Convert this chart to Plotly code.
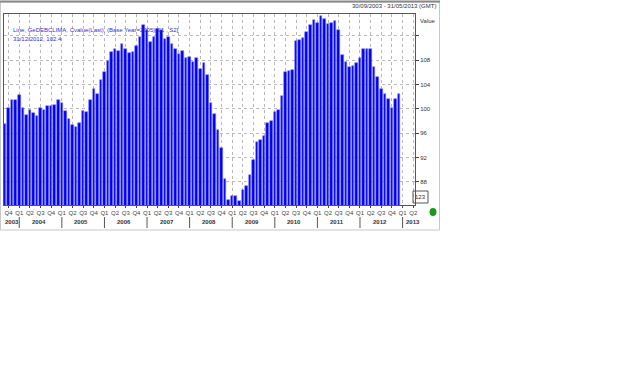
import plotly.graph_objects as go
import pandas as pd

# ---- data ----
start_month = "2003-09-01"
values = [
    97.5, 100.1, 101.5, 101.5, 102.3, 100.1, 99.0, 99.9, 99.3, 98.9,
    100.2, 99.9, 100.4, 100.4, 100.6, 101.5, 100.9, 99.7, 98.3, 97.4,
    97.0, 97.6, 99.7, 99.5, 101.5, 103.3, 102.4, 104.8, 106.1, 107.8,
    109.3, 109.9, 109.6, 110.7, 109.9, 109.2, 109.4, 110.4, 111.9, 113.8,
    112.9, 111.0, 111.9, 113.1, 113.0, 111.5, 111.9, 110.6, 109.9, 109.1,
    109.6, 108.3, 108.5, 107.7, 108.4, 106.6, 107.6, 105.5, 101.0, 99.2,
    96.5, 93.5, 88.5, 85.0, 85.6, 85.6, 84.8, 86.6, 87.3, 89.2,
    91.6, 94.6, 94.9, 95.6, 97.6, 98.0, 99.5, 99.8, 102.2, 106.0,
    106.2, 106.4, 111.1, 111.4, 111.7, 112.6, 113.8, 114.6, 114.1, 115.2,
    114.7, 113.9, 114.1, 114.4, 113.0, 108.9, 107.7, 106.9, 107.0, 107.5,
    108.4, 109.8, 109.9, 109.9, 106.9, 105.2, 103.3, 102.4, 101.6, 100.2,
    101.6, 102.4,
]
y_tick_vals = [88, 92, 96, 100, 104, 108, 112]
y_tick_text = ["88", "92", "96", "100", "104", "108", ""]
quarter_names = ["Q1", "Q2", "Q3", "Q4"]
years = ["2003", "2004", "2005", "2006", "2007", "2008", "2009", "2010", "2011", "2012", "2013"]
legend_line1 = "Line, GeDEBCLIMA, Cvalue(Last), (Base Year=2005)[S1 , S2]"
legend_line2 = "31/12/2012, 102.4"
date_range_text = "30/09/2003 - 31/05/2013 (GMT)"

# ---- derived ----
n_extra = 5  # axis extends to Q2 2013
months = pd.date_range(start_month, periods=len(values) + n_extra, freq="MS")
idx = list(range(len(values)))
q_vals, q_text = [], []
for i, m in enumerate(months):
    if m.month in (1, 4, 7, 10):
        q_vals.append(i)
        q_text.append(quarter_names[(m.month - 1) // 3])

W, H = 640, 387
L, R, T, B = 4, 415, 14, 205
def px(x):
    return (x - L) / (R - L)
def py(y):
    return (B - y) / (B - T)

fnt = "Liberation Sans Narrow, Liberation Sans, Arial"
fig = go.Figure()
fig.add_trace(go.Bar(
    x=idx, y=values, width=0.72,
    marker=dict(color="#0000f0", line=dict(color="#7b7bff", width=0.6)),
    hoverinfo="skip",
))
fig.add_trace(go.Scatter(
    x=[len(values) + 5], y=[values[-1]], mode="markers",
    marker=dict(symbol="diamond", size=6, color="#1515e0"),
    cliponaxis=False, hoverinfo="skip",
))

shapes = []
annotations = []

def ann(x, y, text, xref="paper", xanchor="center", color="#333", size=6):
    return dict(x=x, y=y, xref=xref, yref="paper", text=text, showarrow=False,
                xanchor=xanchor, yanchor="middle",
                font=dict(size=size, color=color, family=fnt))

# year labels and separators
for yr in years:
    jan = [i for i, m in enumerate(months) if m.year == int(yr) and m.month == 1]
    first = [i for i, m in enumerate(months) if m.year == int(yr)]
    if jan:
        shapes.append(dict(type="line", xref="x", yref="paper", x0=jan[0], x1=jan[0],
                           y0=py(217), y1=py(228), line=dict(color="#555", width=1)))
    if yr == years[-1]:
        annotations.append(ann(jan[0] + 0.4, py(222.5), "<b>%s</b>" % yr, xref="x",
                               xanchor="left", color="#333"))
    else:
        mid = (first[0] + first[-1]) / 2.0 + (0.5 if yr == years[0] else 0.0)
        annotations.append(ann(mid, py(222.5), "<b>%s</b>" % yr, xref="x", color="#333"))

annotations += [
    ann(px(11), py(30), legend_line1, xanchor="left", color="#3030d0"),
    ann(px(11), py(39), legend_line2, xanchor="left", color="#3030d0"),
    ann(px(438), py(6), date_range_text, xanchor="right"),
    ann(px(418), py(21), "Value", xanchor="left"),
    ann(px(420.5), py(197), "123"),
]
shapes += [
    # outer frame
    dict(type="rect", xref="paper", yref="paper", x0=px(0.5), x1=px(439.5), y0=py(230), y1=py(2),
         line=dict(color="#c8c8c8", width=1)),
    dict(type="line", xref="paper", yref="paper", x0=px(0), x1=px(440), y0=py(1.5), y1=py(1.5),
         line=dict(color="#888", width=2)),
    # 123 box
    dict(type="rect", xref="paper", yref="paper", x0=px(413), x1=px(428), y0=py(203), y1=py(191),
         line=dict(color="#555", width=1)),
    # green dot
    dict(type="circle", xref="paper", yref="paper", x0=px(429.5), x1=px(436.5), y0=py(216), y1=py(208),
         fillcolor="#1a9a1a", line=dict(color="#1a9a1a", width=0)),
]

fig.update_layout(
    width=W, height=H,
    margin=dict(l=L, r=W - R, t=T, b=H - B, autoexpand=False, pad=0),
    paper_bgcolor="white", plot_bgcolor="white",
    showlegend=False, bargap=0,
    font=dict(family=fnt, size=6, color="#333"),
    shapes=shapes, annotations=annotations,
    xaxis=dict(
        range=[-0.3, 115.5], tickmode="array", tickvals=q_vals, ticktext=q_text, tickangle=0,
        ticks="outside", ticklen=2, tickcolor="#444", tickfont=dict(size=6, color="#444"),
        showgrid=True, gridcolor="#b8b8b8", griddash="dot", gridwidth=1, automargin=False,
        showline=True, linecolor="#555", linewidth=1, mirror=True, zeroline=False,
    ),
    yaxis=dict(
        range=[84.2, 115.6], side="right", tickmode="array", tickvals=y_tick_vals, ticktext=y_tick_text,
        ticks="outside", ticklen=3, tickcolor="#444", tickfont=dict(size=6, color="#333"),
        showgrid=True, gridcolor="#b8b8b8", griddash="dot", gridwidth=1, automargin=False,
        showline=True, linecolor="#555", linewidth=1, mirror=True, zeroline=False,
    ),
)
fig.write_html("out.html", config={"displayModeBar": False},
               post_script="document.body.style.margin='0px';")
